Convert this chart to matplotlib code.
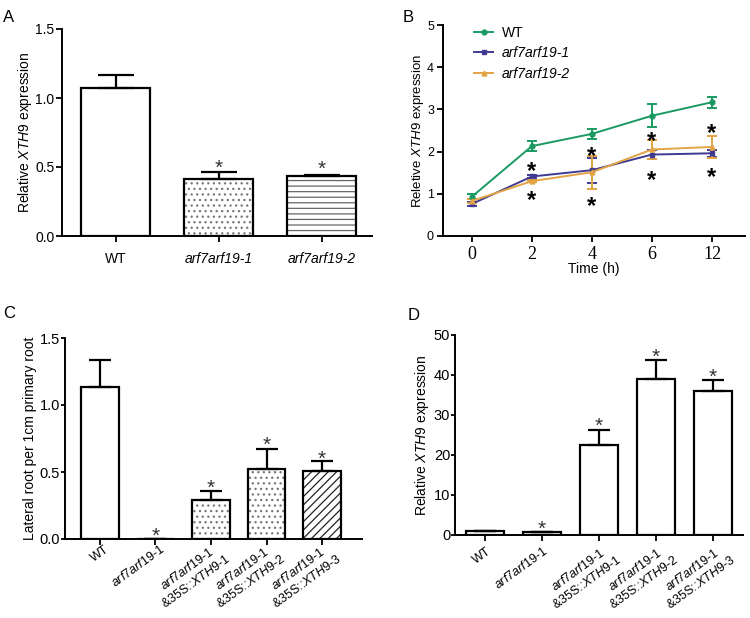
import numpy as np
import matplotlib
matplotlib.use("Agg")
import matplotlib.pyplot as plt
from matplotlib.lines import Line2D
from matplotlib.transforms import blended_transform_factory, ScaledTranslation

plt.rcParams['font.family'] = ['Liberation Sans', 'DejaVu Sans']
plt.rcParams['mathtext.fontset'] = 'custom'
plt.rcParams['mathtext.rm'] = 'Liberation Sans'
plt.rcParams['mathtext.it'] = 'Liberation Sans:italic'
plt.rcParams['mathtext.bf'] = 'Liberation Sans:bold'
plt.rcParams['hatch.linewidth'] = 0.9

# ---------------- data ----------------
# Panel A
a_labels = ['WT', 'arf7arf19-1', 'arf7arf19-2']
a_means = [1.07, 0.41, 0.435]
a_errs = [0.10, 0.055, 0.005]
a_star_y = [None, 0.536, 0.53]

# Panel B
b_times = ['0', '2', '4', '6', '12']
b_wt = [0.93, 2.13, 2.42, 2.85, 3.17]
b_wt_err = [0.06, 0.12, 0.12, 0.27, 0.13]
b_m1 = [0.76, 1.41, 1.56, 1.93, 1.96]
b_m1_err = [0.04, 0.04, 0.30, 0.10, 0.08]
b_m2 = [0.83, 1.30, 1.51, 2.05, 2.11]
b_m2_err = [0.04, 0.03, 0.39, 0.22, 0.26]
b_star_upper = [None, 1.71, 2.06, 2.41, 2.60]
b_star_lower = [None, 1.01, 0.88, 1.50, 1.56]

# Panel C
c_means = [1.135, 0.0, 0.29, 0.52, 0.51]
c_errs = [0.20, 0.0, 0.07, 0.15, 0.07]
c_star_y = [None, 0.067, 0.425, 0.746, 0.642]

# Panel D
d_means = [1.0, 0.7, 22.6, 39.1, 36.1]
d_errs = [0.1, 0.1, 3.6, 4.7, 2.6]
d_star_y = [None, 3.1, 28.9, 46.1, 41.1]

cd_labels = [
    'WT',
    r'$\mathit{arf7arf19}$-$\mathit{1}$',
    r'$\mathit{arf7arf19}$-$\mathit{1}$' + '\n' + r'&35S::$\mathit{XTH9}$-$\mathit{1}$',
    r'$\mathit{arf7arf19}$-$\mathit{1}$' + '\n' + r'&35S::$\mathit{XTH9}$-$\mathit{2}$',
    r'$\mathit{arf7arf19}$-$\mathit{1}$' + '\n' + r'&35S::$\mathit{XTH9}$-$\mathit{3}$',
]

W, H = 750, 618
fig = plt.figure(figsize=(W / 100, H / 100), dpi=100)

BOX = {}


def px_axes(name, l, r, t, b):
    BOX[name] = (l, r, t, b)
    return fig.add_axes([l / W, 1 - b / H, (r - l) / W, (b - t) / H])


axA = px_axes('A', 62, 372, 29, 236)
axB = px_axes('B', 443, 745, 25, 236)
axC = px_axes('C', 65, 362, 338, 539)
axD = px_axes('D', 455, 743, 335, 535)


def ylabel_at(ax, name, right_px):
    l, r, t, b = BOX[name]
    ax.yaxis.set_label_coords((right_px - l) / (r - l), 0.5)


def style_axes(ax, fs):
    for s in ['top', 'right']:
        ax.spines[s].set_visible(False)
    for s in ['left', 'bottom']:
        ax.spines[s].set_linewidth(1.4)
    ax.tick_params(direction='out', length=4.5, width=1.3, labelsize=fs, pad=2)


def star(ax, x, y, fs=15, bold=False, color='#333333'):
    ax.annotate('*', (x, y), xytext=(0, -0.315 * fs), textcoords='offset points',
                ha='center', va='center', fontsize=fs, color=color,
                fontweight='bold' if bold else 'normal', annotation_clip=False)


def bar_panel(ax, means, errs, hatches, hcolors, capsize, width=0.67):
    x = np.arange(len(means))
    ax.bar(x, means, width, color='white', edgecolor=hcolors, hatch=hatches, linewidth=0)
    ax.bar(x, means, width, fill=False, edgecolor='black', linewidth=1.6)
    ax.errorbar(x, means, yerr=[np.zeros(len(errs)), errs], fmt='none', ecolor='black',
                elinewidth=1.6, capsize=capsize, capthick=1.6)
    ax.set_xticks(x)


def rot_labels(ax, labels, single_off, double_off, fs=9, rot=36):
    ax.set_xticklabels([])
    base = blended_transform_factory(ax.transData, ax.transAxes)
    for i, lab in enumerate(labels):
        if '\n' in lab:
            dx, dy = double_off
            va = 'top'
        else:
            dx, dy = single_off
            va = 'center'
        tr = base + ScaledTranslation(dx / 100, -dy / 100, fig.dpi_scale_trans)
        ax.text(i, 0, lab, transform=tr, rotation=rot, ha='right', va=va,
                rotation_mode='anchor', multialignment='center', fontsize=fs,
                clip_on=False)


# ---------------- Panel A ----------------
bar_panel(axA, a_means, a_errs, [None, '...', '---'], ['white', '#777777', '#666666'], 13)
style_axes(axA, 10)
axA.tick_params(axis='y', pad=1)
axA.set_xlim(-0.52, 2.49)
axA.set_ylim(0, 1.5)
axA.set_yticks([0, 0.5, 1.0, 1.5])
axA.set_yticklabels(['0.0', '0.5', '1.0', '1.5'])
axA.set_xticklabels(a_labels)
for i, t in enumerate(axA.get_xticklabels()):
    if i > 0:
        t.set_fontstyle('italic')
axA.tick_params(axis='x', pad=7)
axA.set_ylabel(r'Relative $\mathit{XTH9}$ expression', fontsize=10)
ylabel_at(axA, 'A', 34)
for i, y in enumerate(a_star_y):
    if y is not None:
        star(axA, i, y)

# ---------------- Panel B ----------------
xb = np.arange(len(b_times))
series = [
    (b_wt, b_wt_err, '#1a9a62', 'o', 'WT'),
    (b_m1, b_m1_err, '#3f3a92', 's', 'arf7arf19-1'),
    (b_m2, b_m2_err, '#e2a444', '^', 'arf7arf19-2'),
]
handles = []
for vals, errs, col, mk, lab in series:
    axB.errorbar(xb, vals, yerr=errs, color=col, marker=mk, markersize=3.5, linewidth=1.4,
                 elinewidth=1.4, capsize=3.6, capthick=1.4)
    handles.append(Line2D([], [], color=col, marker=mk, markersize=3.5, linewidth=1.4))
style_axes(axB, 9)
axB.set_xlim(-0.48, 4.55)
axB.set_ylim(0, 5)
axB.set_yticks([0, 1, 2, 3, 4, 5])
axB.set_xticks(xb)
axB.set_xticklabels(b_times, family='Liberation Serif', fontsize=13)
axB.tick_params(axis='x', pad=3)
axB.set_xlabel('Time (h)', fontsize=10, labelpad=-1)
axB.set_ylabel(r'Reletive $\mathit{XTH9}$ expression', fontsize=9.5)
ylabel_at(axB, 'B', 426)
for i in range(len(b_times)):
    if b_star_upper[i] is not None:
        star(axB, i, b_star_upper[i], fs=17, bold=True, color='black')
    if b_star_lower[i] is not None:
        star(axB, i, b_star_lower[i], fs=17, bold=True, color='black')
leg = axB.legend(handles, [s[4] for s in series], loc='upper left',
                 bbox_to_anchor=(474 / W, 1 - 26 / H),
                 bbox_transform=fig.transFigure, frameon=False, fontsize=10,
                 borderpad=0, borderaxespad=0, handlelength=1.4, handletextpad=0.6,
                 labelspacing=0.45)
for i, t in enumerate(leg.get_texts()):
    if i > 0:
        t.set_fontstyle('italic')

# ---------------- Panel C ----------------
bar_panel(axC, c_means, c_errs, [None, None, '...', '...', '////'],
          ['white', 'white', '#777777', '#777777', '#222222'], 8)
style_axes(axC, 10.5)
axC.tick_params(axis='y', length=3, pad=0.5)
axC.set_xlim(-0.63, 4.72)
axC.set_ylim(0, 1.5)
axC.set_yticks([0, 0.5, 1.0, 1.5])
axC.set_yticklabels(['0.0', '0.5', '1.0', '1.5'])
rot_labels(axC, cd_labels, single_off=(8, 9), double_off=(5, 1))
axC.set_ylabel('Lateral root per 1cm primary root', fontsize=10)
ylabel_at(axC, 'C', 37)
for i, y in enumerate(c_star_y):
    if y is not None:
        star(axC, i, y)

# ---------------- Panel D ----------------
bar_panel(axD, d_means, d_errs, [None] * 5, ['white'] * 5, 8)
style_axes(axD, 10.5)
axD.tick_params(axis='y', length=3, pad=0.5)
axD.set_xlim(-0.52, 4.53)
axD.set_ylim(0, 50)
axD.set_yticks([0, 10, 20, 30, 40, 50])
rot_labels(axD, cd_labels, single_off=(5, 15), double_off=(9, 6))
axD.set_ylabel(r'Relative $\mathit{XTH9}$ expression', fontsize=10)
ylabel_at(axD, 'D', 431)
for i, y in enumerate(d_star_y):
    if y is not None:
        star(axD, i, y)

# panel letters
for lab, x, y in [('A', 3, 17), ('B', 403, 18), ('C', 3, 313), ('D', 408, 316)]:
    fig.text(x / W, 1 - y / H, lab, fontsize=12, ha='left', va='center')

fig.savefig('out.png', dpi=100)
